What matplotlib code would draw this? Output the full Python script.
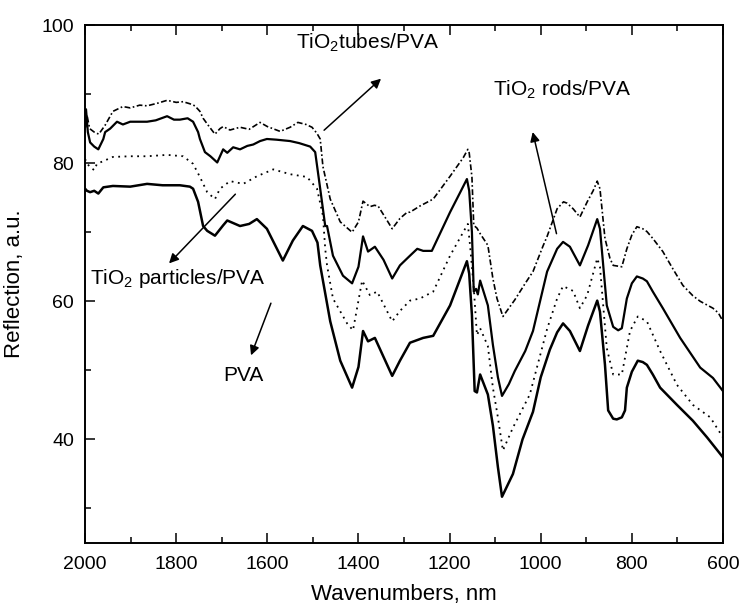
import matplotlib
matplotlib.use("Agg")
import matplotlib.pyplot as plt
from matplotlib.ticker import MultipleLocator

plt.rcParams['font.family'] = ['Liberation Sans', 'DejaVu Sans']
plt.rcParams['mathtext.fontset'] = 'custom'
plt.rcParams['mathtext.rm'] = 'Liberation Sans'
plt.rcParams['mathtext.default'] = 'regular'

# TiO2 tubes/PVA (dash-dot)
wn_tubes = [2000, 1996, 1990, 1980, 1970, 1956, 1939, 1917, 1901, 1880, 1864, 1840, 1820,
            1800, 1785, 1770, 1759, 1748, 1741, 1730, 1715, 1704, 1697, 1682, 1660, 1640,
            1616, 1600, 1572, 1550, 1533, 1515, 1502, 1491, 1484, 1478, 1462, 1440, 1414,
            1400, 1390, 1375, 1365, 1357, 1340, 1326, 1309, 1293, 1287, 1265, 1236, 1199,
            1170, 1160, 1157, 1151, 1147, 1140, 1133, 1116, 1105, 1096, 1083, 1070, 1057,
            1034, 1017, 995, 986, 964, 950, 942, 929, 914, 898, 885, 876, 870, 859, 848,
            841, 822, 811, 800, 789, 776, 767, 754, 732, 710, 688, 666, 650, 622, 610, 600]
r_tubes = [85.5, 87.0, 85.0, 84.5, 84.2, 85.5, 87.5, 88.2, 88.0, 88.4, 88.3, 88.7, 89.1,
           88.8, 88.9, 88.6, 88.3, 87.5, 86.5, 85.5, 84.2, 85.0, 85.3, 84.8, 85.2, 84.9,
           85.9, 85.3, 84.6, 85.2, 85.9, 85.6, 85.2, 84.3, 83.5, 79.5, 74.8, 71.5, 70.0,
           71.5, 74.5, 73.7, 73.9, 73.8, 72.0, 70.5, 72.0, 72.9, 72.9, 73.8, 74.8, 78.1,
           80.8, 82.0, 81.5, 78.0, 71.0, 70.6, 69.8, 68.1, 63.3, 60.4, 57.8, 59.0, 60.2,
           62.6, 64.3, 68.0, 69.4, 73.4, 74.4, 74.2, 73.4, 72.2, 74.4, 76.0, 77.4, 76.3,
           69.1, 66.2, 65.2, 65.0, 67.6, 69.6, 70.8, 70.5, 70.1, 69.1, 67.2, 64.7, 62.3,
           60.8, 60.0, 59.0, 58.3, 57.1]

# TiO2 rods/PVA (solid)
wn_rods = [2000, 1998, 1994, 1989, 1980, 1971, 1960, 1956, 1945, 1930, 1917, 1901, 1880,
           1864, 1845, 1820, 1805, 1792, 1775, 1763, 1752, 1748, 1737, 1725, 1710, 1697,
           1688, 1675, 1660, 1644, 1631, 1616, 1601, 1580, 1550, 1530, 1506, 1495, 1484,
           1473, 1469, 1456, 1434, 1414, 1400, 1390, 1379, 1364, 1345, 1326, 1309, 1287,
           1271, 1258, 1239, 1199, 1175, 1162, 1157, 1151, 1147, 1142, 1138, 1133, 1116,
           1105, 1094, 1085, 1070, 1057, 1034, 1017, 986, 964, 951, 936, 914, 896, 876,
           870, 855, 841, 830, 822, 811, 800, 789, 776, 767, 754, 732, 694, 650, 622, 600]
r_rods = [85.3, 87.8, 84.5, 83.0, 82.4, 82.0, 83.5, 84.5, 85.0, 86.0, 85.6, 86.0, 86.0,
          86.0, 86.2, 86.8, 86.3, 86.3, 86.5, 86.0, 84.5, 83.5, 81.6, 81.0, 80.1, 82.0,
          81.5, 82.3, 82.0, 82.5, 82.7, 83.2, 83.5, 83.4, 83.2, 82.9, 82.4, 81.6, 76.3,
          70.9, 70.9, 66.6, 63.7, 62.6, 65.0, 69.4, 67.2, 67.9, 66.0, 63.3, 65.2, 66.6,
          67.6, 67.3, 67.3, 72.9, 76.0, 77.7, 76.0, 70.0, 61.4, 61.8, 61.0, 63.0, 59.4,
          53.7, 49.0, 46.3, 48.0, 49.9, 52.8, 55.7, 64.3, 67.6, 68.6, 67.9, 65.2, 68.1,
          71.9, 70.5, 59.4, 56.3, 55.8, 56.1, 60.4, 62.6, 63.6, 63.3, 62.9, 61.4, 59.0,
          54.7, 50.4, 48.9, 47.0]

# TiO2 particles/PVA (dotted)
wn_part = [2000, 1996, 1989, 1980, 1974, 1960, 1939, 1901, 1864, 1820, 1785, 1763, 1748,
           1732, 1715, 1704, 1682, 1653, 1623, 1587, 1550, 1513, 1491, 1478, 1473, 1469,
           1456, 1425, 1412, 1392, 1375, 1359, 1326, 1309, 1287, 1265, 1236, 1199, 1160,
           1155, 1147, 1140, 1133, 1116, 1105, 1094, 1083, 1061, 1024, 1002, 986, 964,
           951, 929, 914, 898, 876, 870, 855, 841, 822, 804, 787, 767, 738, 701, 666, 628, 600]
r_part = [80.6, 80.0, 79.4, 79.0, 79.9, 80.3, 80.9, 81.0, 81.0, 81.2, 81.0, 79.9, 78.0,
          75.8, 74.8, 76.3, 77.4, 77.0, 78.1, 79.1, 78.4, 78.0, 76.3, 72.4, 67.6, 65.2,
          60.4, 56.8, 55.8, 63.0, 60.9, 61.4, 57.1, 58.6, 60.1, 60.4, 61.4, 66.6, 71.2,
          68.0, 62.0, 55.1, 56.1, 53.5, 47.5, 43.2, 38.4, 41.7, 46.5, 52.0, 56.0, 60.4,
          62.2, 61.5, 59.0, 60.9, 66.2, 65.0, 53.2, 49.4, 49.4, 55.7, 57.8, 57.1, 52.8,
          47.9, 45.0, 43.2, 40.3]

# PVA (solid)
wn_pva = [2000, 1996, 1989, 1980, 1971, 1960, 1939, 1901, 1864, 1830, 1792, 1770, 1763,
          1752, 1741, 1732, 1715, 1697, 1688, 1660, 1640, 1623, 1601, 1566, 1544, 1522,
          1502, 1490, 1484, 1462, 1440, 1414, 1400, 1390, 1379, 1364, 1326, 1309, 1287,
          1258, 1236, 1199, 1162, 1157, 1151, 1145, 1140, 1133, 1116, 1105, 1094, 1085,
          1061, 1040, 1017, 1000, 980, 964, 951, 936, 914, 896, 876, 870, 859, 852, 841,
          833, 822, 815, 811, 800, 787, 776, 767, 754, 738, 701, 666, 635, 600]
r_pva = [76.3, 76.0, 75.8, 76.0, 75.6, 76.5, 76.7, 76.6, 77.0, 76.8, 76.8, 76.6, 76.3,
         74.4, 70.9, 70.2, 69.5, 71.0, 71.7, 70.9, 71.2, 71.9, 70.5, 65.9, 68.8, 70.9,
         70.2, 68.5, 65.2, 57.1, 51.4, 47.5, 50.5, 55.7, 54.2, 54.7, 49.2, 51.4, 54.0,
         54.7, 55.0, 59.4, 65.8, 64.0, 58.0, 47.0, 46.8, 49.4, 46.5, 42.0, 36.0, 31.7,
         35.0, 40.0, 44.0, 49.0, 53.0, 55.5, 56.8, 55.7, 52.8, 56.5, 60.1, 58.5, 50.8,
         44.2, 43.0, 42.9, 43.2, 44.2, 47.5, 49.8, 51.4, 51.2, 50.8, 49.4, 47.5, 45.0,
         42.7, 40.3, 37.4]

fig = plt.figure(figsize=(7.4, 6.12), dpi=100)
ax = fig.add_axes([0.115, 0.1127, 0.862, 0.8464])

ax.plot(wn_tubes, r_tubes, color='black', lw=1.2, dashes=(3.5, 1.5, 1, 1.5))
ax.plot(wn_rods, r_rods, color='black', lw=1.6, ls='-')
ax.plot(wn_part, r_part, color='black', lw=1.3, dashes=(1, 2.5))
ax.plot(wn_pva, r_pva, color='black', lw=1.8, ls='-')

ax.set_xlim(2000, 600)
ax.set_ylim(25, 100)
ax.xaxis.set_major_locator(MultipleLocator(200))
ax.xaxis.set_minor_locator(MultipleLocator(100))
ax.yaxis.set_major_locator(MultipleLocator(20))
ax.yaxis.set_minor_locator(MultipleLocator(10))
ax.set_yticks([40, 60, 80, 100])
ax.tick_params(which='both', direction='in', top=True, right=False, width=1.1)
ax.tick_params(which='major', length=7, labelsize=14)
ax.tick_params(which='minor', length=4)
ax.tick_params(axis='y', pad=8)
ax.tick_params(axis='x', pad=9)
for s in ax.spines.values():
    s.set_linewidth(1.4)

ax.set_xlabel('Wavenumbers, nm', fontsize=16, labelpad=8)
ax.set_ylabel('Reflection, a.u.', fontsize=16, labelpad=12)

arrow = dict(arrowstyle='-|>', color='black', lw=1.1, mutation_scale=14)
ax.annotate('', xy=(1346, 92.5), xytext=(1480, 84.5), arrowprops=arrow)
ax.text(1379, 97.4, 'TiO$_2$tubes/PVA', fontsize=15, ha='center', va='center')

ax.annotate('', xy=(1019, 84.9), xytext=(964, 69.4), arrowprops=arrow)
ax.text(953, 90.6, 'TiO$_2$ rods/PVA', fontsize=15, ha='center', va='center')

ax.annotate('', xy=(1820, 65.2), xytext=(1666, 75.8), arrowprops=arrow)
ax.text(1796, 63.3, 'TiO$_2$ particles/PVA', fontsize=15, ha='center', va='center')

ax.annotate('', xy=(1638, 51.8), xytext=(1590, 60.1), arrowprops=arrow)
ax.text(1653, 49.2, 'PVA', fontsize=15, ha='center', va='center')

fig.savefig('out.png', dpi=100)
